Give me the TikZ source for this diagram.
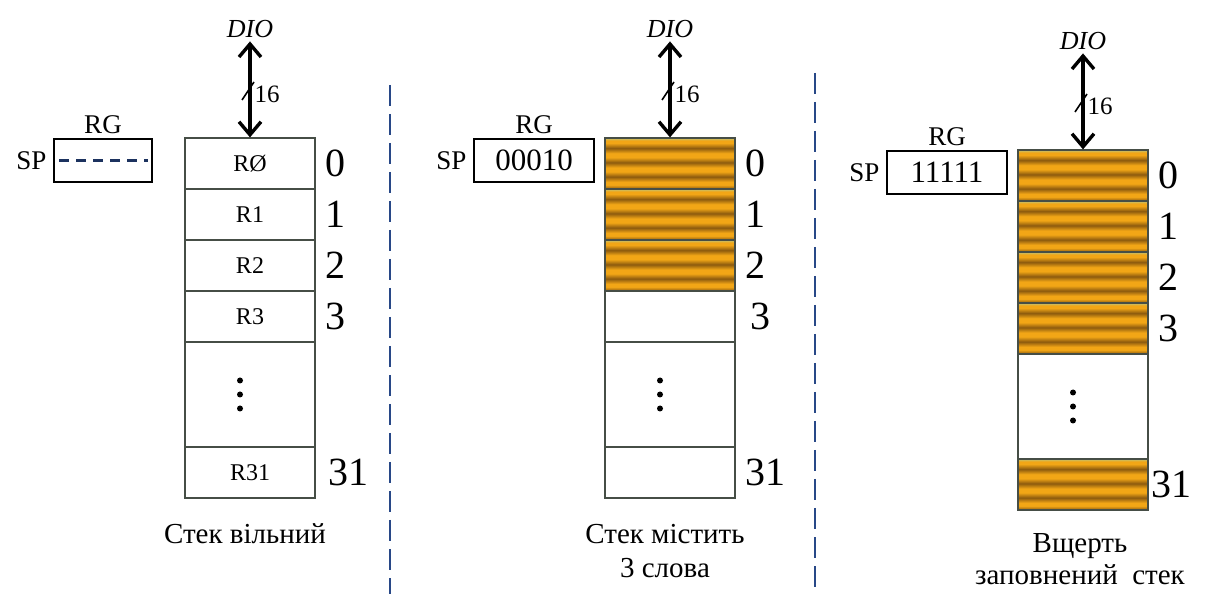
\documentclass[tikz,border=0pt]{standalone}
\usepackage{fontspec}
\setmainfont{LiberationSerif-Regular.ttf}[ItalicFont=LiberationSerif-Italic.ttf, BoldFont=LiberationSerif-Bold.ttf]
\usetikzlibrary{positioning,arrows.meta}
\definecolor{stkorange}{RGB}{242,166,22}
\definecolor{stkdark}{RGB}{140,90,14}
\definecolor{stktop}{RGB}{190,196,120}
\definecolor{stkline}{RGB}{70,78,70}
\definecolor{divblue}{RGB}{40,72,135}
\pgfdeclareverticalshading{stackstripes}{100bp}{color(0bp)=(stkdark); color(25bp)=(stkdark);
  color(29bp)=(stkorange); color(32bp)=(stkorange); color(37bp)=(stkdark); color(42bp)=(stkorange);
  color(46bp)=(stkorange); color(51bp)=(stkdark); color(56bp)=(stkorange); color(60bp)=(stkorange);
  color(65bp)=(stkdark); color(70bp)=(stkorange); color(72.5bp)=(stkorange); color(75bp)=(stktop);
  color(100bp)=(stktop)}

\begin{document}
\begin{tikzpicture}[x=1pt, y=1pt,
  cell/.style={draw=stkline, line width=1.2pt, minimum width=130pt, minimum height=51pt,
    inner sep=0pt, font=\fontsize{24}{28}\selectfont},
  fullcell/.style={cell, shade, shading=stackstripes},
  idx/.style={inner sep=0pt, font=\fontsize{40}{42}\selectfont},
  lbl/.style={font=\fontsize{27}{30}\selectfont},
  regbox/.style={draw, line width=2pt, minimum height=43pt, inner sep=0pt, font=\fontsize{31}{33}\selectfont},
  bus/.style={line width=3.4pt, {Straight Barb[length=13pt,width=22pt]}-{Straight Barb[length=13pt,width=22pt]}},
  caption/.style={inner sep=0pt, align=center, font=\fontsize{29}{34}\selectfont},
  divider/.style={divblue, line width=2.6pt, dash pattern=on 21pt off 8pt}]
  \useasboundingbox (0,0) rectangle (1206,594);

  % --- empty stack
  \begin{scope}[shift={(185,456)}, name prefix=a-]
    \foreach \i/\txt in {0/RØ,1/R1,2/R2,3/R3}
      \node[cell] (r\i) at (65,-25.5-51*\i) {\txt};
    \node[cell, minimum height=105pt] (gap) at (65,-256.5) {};
    \node[cell] (r31) at (65,-334.5) {R31};
    \foreach \i in {0,...,3}
      \node[idx, right=10pt of r\i] (n\i) {\i};
    \node[idx, right=13pt of r31] (n31) {31};
    \foreach \k in {-1,0,1}
      \fill (55,-256.5+14*\k) circle (3pt);
    \draw[bus] (r0.north) -- ++(0,96) coordinate (top);
    \node[lbl, font=\fontsize{26}{28}\selectfont\itshape, above=0pt of top] (dio) {DIO};
    \draw[line width=1.6pt] (57,38) -- (69,56);
    \node[lbl, anchor=west, font=\fontsize{25}{28}\selectfont] (w) at (66,44) {16};
    \node[regbox, minimum width=98pt, anchor=north east] (rg) at (-32,0) {};
    \draw[divblue!70!black, line width=2.2pt, dash pattern=on 10pt off 7pt, shorten <=6pt, shorten >=5pt] (rg.west) -- (rg.east);
    \node[lbl, above=1pt of rg] (rgname) {RG};
    \node[lbl, left=3pt of rg] (spname) {SP};
    \node[caption, below=25pt of r31, xshift=-5pt] (cap) {Стек вільний};
  \end{scope}

  \draw[divider] (390,509) -- (390,0);

  % --- stack with three words
  \begin{scope}[shift={(605,456)}, name prefix=b-]
    \foreach \i in {0,1,2}
      \node[fullcell] (r\i) at (65,-25.5-51*\i) {};
    \node[cell] (r3) at (65,-178.5) {};
    \node[cell, minimum height=105pt] (gap) at (65,-256.5) {};
    \node[cell] (r31) at (65,-334.5) {};
    \foreach \i in {0,...,2}
      \node[idx, right=10pt of r\i] (n\i) {\i};
    \node[idx, right=15pt of r3] (n3) {3};
    \node[idx, right=10pt of r31] (n31) {31};
    \foreach \k in {-1,0,1}
      \fill (55,-256.5+14*\k) circle (3pt);
    \draw[bus] (r0.north) -- ++(0,96) coordinate (top);
    \node[lbl, font=\fontsize{26}{28}\selectfont\itshape, above=0pt of top] (dio) {DIO};
    \draw[line width=1.6pt] (57,38) -- (69,56);
    \node[lbl, anchor=west, font=\fontsize{25}{28}\selectfont] (w) at (66,44) {16};
    \node[regbox, minimum width=120pt, anchor=north east] (rg) at (-10,0) {00010};
    \node[lbl, above=1pt of rg] (rgname) {RG};
    \node[lbl, left=3pt of rg] (spname) {SP};
    \node[caption, below=25pt of r31, xshift=-5pt] (cap) {Стек містить\\3 слова};
  \end{scope}

  \draw[divider] (815,521) -- (815,0);

  % --- full stack
  \begin{scope}[shift={(1018,444)}, name prefix=c-]
    \foreach \i in {0,...,3}
      \node[fullcell] (r\i) at (65,-25.5-51*\i) {};
    \node[cell, minimum height=105pt] (gap) at (65,-256.5) {};
    \node[fullcell] (r31) at (65,-334.5) {};
    \foreach \i in {0,...,3}
      \node[idx, right=10pt of r\i] (n\i) {\i};
    \node[idx, right=3pt of r31] (n31) {31};
    \foreach \k in {-1,0,1}
      \fill (55,-256.5+14*\k) circle (3pt);
    \draw[bus] (r0.north) -- ++(0,96) coordinate (top);
    \node[lbl, font=\fontsize{26}{28}\selectfont\itshape, above=0pt of top] (dio) {DIO};
    \draw[line width=1.6pt] (57,38) -- (69,56);
    \node[lbl, anchor=west, font=\fontsize{25}{28}\selectfont] (w) at (66,44) {16};
    \node[regbox, minimum width=120pt, anchor=north east] (rg) at (-10,0) {11111};
    \node[lbl, above=1pt of rg] (rgname) {RG};
    \node[lbl, left=3pt of rg] (spname) {SP};
    \node[caption, below=23pt of r31, xshift=-3pt, font=\fontsize{29}{32}\selectfont] (cap) {Вщерть\\заповнений\ \ стек};
  \end{scope}
\end{tikzpicture}
\end{document}
